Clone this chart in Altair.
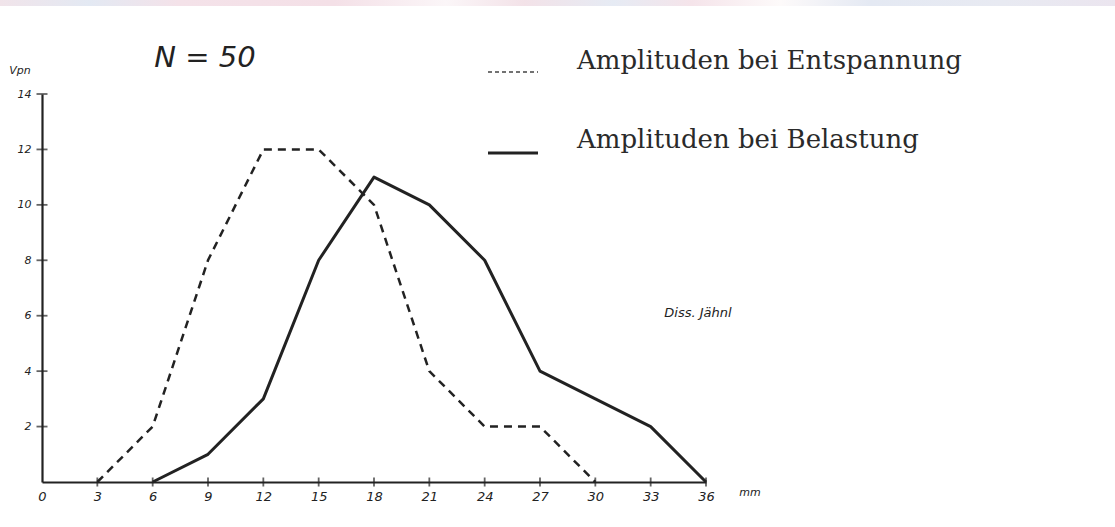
import altair as alt
import pandas as pd

# Amplitude classes (mm) and number of subjects (Vpn) per class
mm_entspannung = [3, 6, 9, 12, 15, 18, 21, 24, 27, 30]
vpn_entspannung = [0, 2, 8, 12, 12, 10, 4, 2, 2, 0]

mm_belastung = [6, 9, 12, 15, 18, 21, 24, 27, 30, 33, 36]
vpn_belastung = [0, 1, 3, 8, 11, 10, 8, 4, 3, 2, 0]

x_ticks = [3, 6, 9, 12, 15, 18, 21, 24, 27, 30, 33, 36]
x_labels = [0, 3, 6, 9, 12, 15, 18, 21, 24, 27, 30, 33, 36]
y_ticks = [2, 4, 6, 8, 10, 12, 14]

INK = "#222222"
HAND = "DejaVu Sans"
SERIF = "DejaVu Serif"

W, H = 664, 388
PAD = {"left": 42, "top": 94, "right": 1115 - 42 - W, "bottom": 527 - 94 - H}

df_e = pd.DataFrame({"mm": mm_entspannung, "vpn": vpn_entspannung})
df_b = pd.DataFrame({"mm": mm_belastung, "vpn": vpn_belastung})
df_xt = pd.DataFrame({"mm": x_ticks, "vpn": [0] * len(x_ticks)})
df_yt = pd.DataFrame({"mm": [0] * len(y_ticks), "vpn": y_ticks})

xs = alt.Scale(domain=[0, 36], nice=False, zero=True)
ys = alt.Scale(domain=[0, 14], nice=False, zero=True)

x_axis = alt.Axis(
    values=x_labels, ticks=False, grid=False, title=None,
    domainColor=INK, domainWidth=2.2,
    labelFont=HAND, labelFontStyle="italic", labelFontSize=13,
    labelColor=INK, labelPadding=8, labelFlush=False,
)
y_axis = alt.Axis(
    values=y_ticks, ticks=False, grid=False, title=None,
    domainColor=INK, domainWidth=2.2,
    labelFont=HAND, labelFontStyle="italic", labelFontSize=11,
    labelColor=INK, labelPadding=11,
)

# Axis frame carries the tick labels
frame = alt.Chart(df_xt).mark_point(opacity=0).encode(
    x=alt.X("mm:Q", scale=xs, axis=x_axis),
    y=alt.Y("vpn:Q", scale=ys, axis=y_axis),
)

# Tick marks crossing the axes
xt = alt.Chart(df_xt).mark_tick(orient="vertical", size=9, thickness=1.8, color=INK).encode(
    x=alt.X("mm:Q", scale=xs), y=alt.Y("vpn:Q", scale=ys)
)
yt = alt.Chart(df_yt).mark_tick(orient="horizontal", size=11, thickness=1.8, color=INK).encode(
    x=alt.X("mm:Q", scale=xs), y=alt.Y("vpn:Q", scale=ys)
)

line_e = alt.Chart(df_e).mark_line(
    color=INK, strokeWidth=2.5, strokeDash=[8, 6], strokeCap="butt"
).encode(x=alt.X("mm:Q", scale=xs), y=alt.Y("vpn:Q", scale=ys))

line_b = alt.Chart(df_b).mark_line(
    color=INK, strokeWidth=3, strokeJoin="round"
).encode(x=alt.X("mm:Q", scale=xs), y=alt.Y("vpn:Q", scale=ys))


def label(text, x, y, size, font=HAND, style="italic", align="center", baseline="middle", color=INK):
    return alt.Chart(pd.DataFrame({"t": [text]})).mark_text(
        font=font, fontStyle=style, fontSize=size, align=align,
        baseline=baseline, color=color,
    ).encode(text="t:N", x=alt.value(x), y=alt.value(y))


title_n = label("N = 50", 163, -36, 29)
y_title = label("Vpn", -22, -23, 11)
x_unit = label("mm", 708, 399, 11)
sign = label("Diss. Jähnl", 656, 219, 13)

leg_text_e = label("Amplituden bei Entspannung", 535, -25, 26, font=SERIF,
                   style="normal", align="left", baseline="alphabetic", color="#2a2a2a")
leg_text_b = label("Amplituden bei Belastung", 535, 54, 26, font=SERIF,
                   style="normal", align="left", baseline="alphabetic", color="#2a2a2a")

leg_line_e = alt.Chart(pd.DataFrame({"k": [0]})).mark_rule(
    color="#444444", strokeWidth=1.6, strokeDash=[4, 3]
).encode(x=alt.value(446), x2=alt.value(496), y=alt.value(-22))
leg_line_b = alt.Chart(pd.DataFrame({"k": [0]})).mark_rule(
    color=INK, strokeWidth=3
).encode(x=alt.value(446), x2=alt.value(496), y=alt.value(59))

# Faint printed colour band along the top edge of the page
band = alt.Chart(pd.DataFrame({"k": [0]})).mark_rect(
    color=alt.Gradient(
        gradient="linear", x1=0, x2=1, y1=0, y2=0,
        stops=[
            alt.GradientStop(offset=0.0, color="#f1e4ea"),
            alt.GradientStop(offset=0.08, color="#e3e9f3"),
            alt.GradientStop(offset=0.16, color="#f4e2e9"),
            alt.GradientStop(offset=0.3, color="#f4e0e7"),
            alt.GradientStop(offset=0.4, color="#fbf6f8"),
            alt.GradientStop(offset=0.47, color="#f3e2e8"),
            alt.GradientStop(offset=0.55, color="#e6ebf4"),
            alt.GradientStop(offset=0.62, color="#f5e4ea"),
            alt.GradientStop(offset=0.7, color="#fdfafa"),
            alt.GradientStop(offset=0.78, color="#e4e9f3"),
            alt.GradientStop(offset=0.9, color="#e8eaf2"),
            alt.GradientStop(offset=1.0, color="#ebe5ef"),
        ],
    )
).encode(x=alt.value(-42), x2=alt.value(1073), y=alt.value(-94), y2=alt.value(-88))

chart = alt.layer(
    band, frame, xt, yt, line_e, line_b,
    title_n, y_title, x_unit, sign,
    leg_line_e, leg_line_b, leg_text_e, leg_text_b,
).properties(
    width=W, height=H, padding=PAD,
    autosize=alt.AutoSizeParams(type="none"),
    background="white",
).configure_view(stroke=None)

chart.save("out.html", embed_options={"renderer": "svg", "actions": False})
